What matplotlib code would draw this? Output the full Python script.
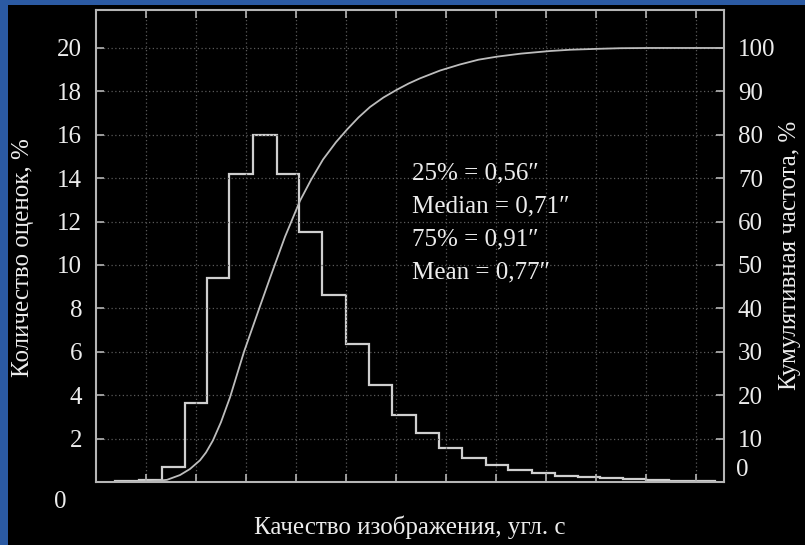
import numpy as np
import matplotlib
matplotlib.use("Agg")
import matplotlib.pyplot as plt
from matplotlib.patches import Rectangle

plt.rcParams["font.family"] = ["Liberation Serif", "DejaVu Serif"]

# Histogram of seeing estimates, % per bin (bin edges in arcsec)
bin_edges = [0.076, 0.170, 0.263, 0.356, 0.444, 0.533, 0.629, 0.725, 0.813,
             0.905, 1.000, 1.093, 1.185, 1.279, 1.372, 1.465, 1.559, 1.649,
             1.743, 1.836, 1.929, 2.016, 2.108, 2.200, 2.292, 2.384, 2.476]
bin_percent = [0.05, 0.10, 0.71, 3.66, 9.41, 14.2, 16.0, 14.2, 11.53, 8.64,
               6.36, 4.48, 3.09, 2.25, 1.56, 1.09, 0.79, 0.55, 0.40, 0.29,
               0.22, 0.17, 0.12, 0.09, 0.06, 0.04]

# Cumulative frequency curve, %
cum_seeing = [0.124, 0.216, 0.284, 0.336, 0.376, 0.416, 0.440, 0.468, 0.500,
              0.536, 0.560, 0.592, 0.656, 0.696, 0.756, 0.816, 0.860, 0.908,
              0.960, 1.004, 1.050, 1.096, 1.150, 1.204, 1.250, 1.296, 1.376,
              1.456, 1.530, 1.604, 1.700, 1.816, 1.900, 2.004, 2.100, 2.216,
              2.512]
cum_percent = [0.0, 0.15, 0.5, 1.6, 3.0, 5.0, 6.8, 9.6, 13.8,
               19.5, 24.0, 30.0, 40.5, 47.0, 56.5, 64.8, 69.6, 74.3,
               78.3, 81.2, 84.0, 86.4, 88.6, 90.4, 91.8, 93.0, 94.8,
               96.2, 97.3, 98.0, 98.7, 99.3, 99.6, 99.8, 99.95, 100.0,
               100.0]

x_ticks = [0.2, 0.4, 0.6, 0.8, 1.0, 1.2, 1.4, 1.6, 1.8, 2.0, 2.2, 2.4]
left_ticks = [2, 4, 6, 8, 10, 12, 14, 16, 18, 20]
right_ticks = [10, 20, 30, 40, 50, 60, 70, 80, 90, 100]

stats_lines = ["25% = 0,56\u2033", "Median = 0,71\u2033",
               "75% = 0,91\u2033", "Mean = 0,77\u2033"]

TXT = "#ececec"
LINE = "#cfcfcf"
SPINE = "#b5b5b5"
GRID = "#5a5a5a"

fig = plt.figure(figsize=(8.05, 5.45), dpi=100, facecolor="#2b5aa3")
fig.patches.append(Rectangle((8 / 805, 0), 1, (545 - 5) / 545,
                             transform=fig.transFigure, facecolor="black",
                             edgecolor="none", zorder=-10))

ax = fig.add_axes([96 / 805, 63 / 545, 628 / 805, 472 / 545])
ax.set_facecolor("black")
ax.set_xlim(0, 2.512)
ax.set_ylim(0, 21.75)

ax.stairs(bin_percent, bin_edges, color=LINE, linewidth=1.6, baseline=0)
ax.plot(cum_seeing, np.array(cum_percent) / 5.0, color="#bdbdbd",
        linewidth=1.3, solid_joinstyle="round")

ax.set_xticks(x_ticks)
ax.set_xticklabels([])
ax.set_yticks(left_ticks)
ax.set_yticklabels([str(t) for t in left_ticks], fontsize=18, color=TXT)
ax.grid(True, color=GRID, linestyle=(0, (1, 2)), linewidth=0.9)
ax.tick_params(direction="in", length=6, width=1.2, color=SPINE,
               top=True, right=False, pad=10)
for s in ax.spines.values():
    s.set_color(SPINE)
    s.set_linewidth(1.5)

ax2 = ax.twinx()
ax2.set_ylim(0, 21.75 * 5)
ax2.set_yticks(right_ticks)
ax2.set_yticklabels([str(t) for t in right_ticks], fontsize=18, color=TXT)
ax2.tick_params(direction="in", length=6, width=1.2, color=SPINE, pad=10)
for s in ax2.spines.values():
    s.set_visible(False)

# zero labels sit slightly off the axis corners
fig.text(60 / 805, 1 - 502 / 545, "0", fontsize=18, color=TXT,
         ha="center", va="center")
fig.text(736 / 805, 1 - 470 / 545, "0", fontsize=18, color=TXT,
         ha="left", va="center")

for i, line in enumerate(stats_lines):
    fig.text(412 / 805, 1 - (173 + i * 33.3) / 545, line, fontsize=18,
             color=TXT, ha="left", va="center")

fig.text(410 / 805, 1 - 527 / 545, "Качество изображения, угл. с",
         fontsize=18, color=TXT, ha="center", va="center")
fig.text(23 / 805, 1 - 258 / 545, "Количество оценок, %", fontsize=18,
         color=TXT, ha="center", va="center", rotation=90)
fig.text(790 / 805, 1 - 255 / 545, "Кумулятивная частота, %", fontsize=18,
         color=TXT, ha="center", va="center", rotation=90)

fig.savefig("out.png", dpi=100, facecolor=fig.get_facecolor())
